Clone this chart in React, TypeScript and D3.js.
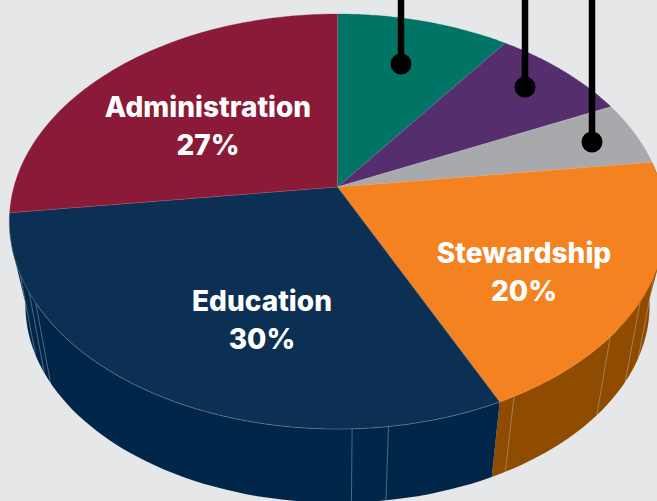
import React from "react";
import * as d3 from "d3";

const categories = ["Teal", "Purple", "Gray", "Stewardship", "Education", "Administration"];
const shares = [10, 8, 5, 20, 30, 27];
const topColors = ["#007566", "#552e6e", "#a7a9ac", "#f58220", "#0b3053", "#8b1a38"];
const sideColors = ["#005548", "#3a1d4d", "#77787b", "#8f4b00", "#00264a", "#00264a"];
const facetShares = [31.8, 33.7, 36.5, 42.3, 47.9, 49.4, 66.2, 67, 68.4];
const labels = [
  { name: "Administration", value: "27%", x: 208, y: 117 },
  { name: "Education", value: "30%", x: 262, y: 311 },
  { name: "Stewardship", value: "20%", x: 524, y: 263 },
];
const leaders = [
  { x: 401, y: 64 },
  { x: 525, y: 87 },
  { x: 592, y: 142 },
];
const W = 657, H = 501;
const apex = { x: 337.5, y: 187 };
const A = 323.6, B = 201.8, K = 0.1663;
const WALL_SCALE = 0.951, VANISH_Y = 1933;

const angle = d3.scaleLinear().domain([0, 100]).range([0, 2 * Math.PI]);
const rim = (p: number): [number, number] => {
  const t = angle(p);
  const u = Math.sin(t), v = -Math.cos(t), den = 1 - K * v;
  return [apex.x + (A * u) / den, apex.y + (B * v) / den];
};
const lower = (p: number): [number, number] => {
  const [x, y] = rim(p);
  return [apex.x + WALL_SCALE * (x - apex.x), VANISH_Y + WALL_SCALE * (y - VANISH_Y)];
};
const line = d3.line();
const arcs = d3.pie<number>().sort(null).value((d) => d)(shares);
const pct = (a: number) => (a / (2 * Math.PI)) * 100;
const samples = (a: number, b: number) => d3.range(0, 61).map((i) => a + ((b - a) * i) / 60);
const wallSlices = [3, 4];
const shoulders = [
  { slice: 3, from: 30.6, to: 33.2, back: 36 },
  { slice: 4, from: 69.4, to: 67.6, back: 66 },
];

export default function App() {
  return (
    <svg width={W} height={H} style={{ position: "absolute", left: 0, top: 0, background: "#e6e7e8" }}>
      {wallSlices.map((i) => {
        const s = samples(pct(arcs[i].startAngle), pct(arcs[i].endAngle));
        return <path key={i} d={line([...s.map(rim), ...s.slice().reverse().map(lower)]) + "Z"} fill={sideColors[i]} />;
      })}
      {shoulders.map((h) => (
        <path key={h.slice} d={line([rim(h.from), lower(h.to), rim(h.back)]) + "Z"} fill={sideColors[h.slice]} />
      ))}
      {facetShares.map((p) => (
        <path key={p} d={line([rim(p), lower(p)]) as string} stroke="#c8ccd0" strokeOpacity={0.5} strokeWidth={0.8} fill="none" />
      ))}
      {arcs.map((a, i) => {
        const s = samples(pct(a.startAngle), pct(a.endAngle));
        return (
          <path key={categories[i]} d={line([[apex.x, apex.y], ...s.map(rim)]) + "Z"} fill={topColors[i]} stroke={topColors[i]} strokeWidth={0.3} />
        );
      })}
      {arcs.map((a, i) => (
        <path key={i} d={line([[apex.x, apex.y], rim(pct(a.startAngle))]) as string} stroke="#ffffff" strokeOpacity={0.22} strokeWidth={0.7} fill="none" />
      ))}
      <path d={line(samples(pct(arcs[4].startAngle), pct(arcs[4].endAngle)).map(rim)) as string} stroke="#c5ccd3" strokeOpacity={0.45} strokeWidth={0.7} fill="none" />
      {leaders.map((l) => (
        <g key={l.x}>
          <line x1={l.x} x2={l.x} y1={0} y2={l.y} stroke="#000" strokeWidth={6.5} />
          <circle cx={l.x} cy={l.y} r={10.5} fill="#000" />
        </g>
      ))}
      {labels.map((l) => (
        <text key={l.name} textAnchor="middle" fill="#fff" fontFamily="Inter" fontWeight={800} fontSize={28}>
          <tspan x={l.x} y={l.y}>{l.name}</tspan>
          <tspan x={l.x} y={l.y + 38}>{l.value}</tspan>
        </text>
      ))}
    </svg>
  );
}
